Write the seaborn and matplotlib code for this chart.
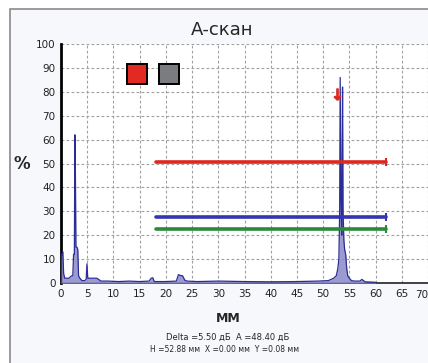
import numpy as np
import pandas as pd
import matplotlib
matplotlib.use("Agg")
import matplotlib.pyplot as plt
from matplotlib.patches import Rectangle
import seaborn as sns

# A-scan echo signal: depth (mm) vs amplitude (%)
depth = [0.0, 0.15, 0.35, 0.5, 0.7, 1.0, 1.5, 2.0, 2.25, 2.4, 2.55, 2.65, 2.75, 2.85,
         3.05, 3.2, 3.35, 3.6, 4.0, 4.5, 4.8, 4.95, 5.1, 5.4, 6.0, 6.8, 7.2, 7.6, 9.0,
         11.0, 13.0, 15.0, 16.8, 17.2, 17.5, 17.8, 20.0, 22.0, 22.4, 22.7, 23.2, 23.6,
         24.0, 26.0, 30.0, 35.0, 40.0, 45.0, 49.0, 51.0, 52.0, 52.5, 52.8, 53.0, 53.15,
         53.25, 53.4, 53.55, 53.7, 53.8, 53.95, 54.1, 54.3, 54.5, 54.7, 55.0, 55.4,
         56.0, 57.0, 57.4, 58.0, 60.0]
ampl = [10, 12, 13, 4, 2, 2, 2, 3, 3, 12, 12, 62, 45, 15,
        15, 14, 3, 2, 1, 1, 1.5, 8, 2, 2, 2, 2, 1.5, 0.8, 0.8,
        0.6, 0.8, 0.6, 0.8, 2, 2.2, 0.6, 0.6, 0.8, 3.5, 3.2, 3, 1.2,
        0.8, 0.6, 0.8, 0.6, 0.5, 0.6, 0.8, 1, 2, 3, 6, 10, 30,
        86, 35, 20, 82, 30, 18, 14, 12, 6, 3, 2, 1,
        0.8, 0.8, 1.5, 0.5, 0.3]

# gate lines: level (%), start and end (mm)
gate_names = ["A", "B", "C"]
gate_level = [50.5, 27.5, 22.4]
gate_start = [18.1, 18.1, 18.1]
gate_end = [62.0, 62.0, 62.0]
gate_color = ["#e0261f", "#3434b4", "#2a8a3a"]

x_ticks = list(range(0, 70, 5))
y_ticks = list(range(0, 110, 10))

scan = pd.DataFrame({"mm": depth, "pct": ampl})

sns.set_style("white")
plt.rcParams["font.family"] = ["DejaVu Sans"]

fig = plt.figure(figsize=(4.28, 3.63), dpi=100)
fig.patch.set_facecolor("white")
# outer panel frame
fig.patches.append(Rectangle((10 / 428, -0.1), 1.1, 1 - 9 / 363 + 0.1,
                             transform=fig.transFigure, facecolor="#f6f8fb",
                             edgecolor="#8a8a8a", lw=1.2, zorder=-5))

ax = fig.add_axes([61 / 428, 80 / 363, 367 / 428, 239 / 363])
ax.set_facecolor("white")

ax.fill_between(scan["mm"], scan["pct"], color="#9090cc", alpha=0.9, lw=0, zorder=3)
sns.lineplot(data=scan, x="mm", y="pct", ax=ax, color="#2c2c96", lw=0.9,
             estimator=None, sort=False, zorder=4)

for lvl, x0, x1, c in zip(gate_level, gate_start, gate_end, gate_color):
    ax.plot([x0, x1], [lvl, lvl], color=c, lw=2.6, solid_capstyle="round", zorder=5)
    ax.plot([x1], [lvl], marker="|", ms=6, mew=1.5, color=c, zorder=5)

# cursor mark at the peak
ax.plot([52.6], [79], marker=r"$\downarrow$", ms=8, color="#e0261f", zorder=6)

# colour swatches
ax.plot([14.5], [87.5], marker="s", ms=15, mfc="#e22a22", mec="black", mew=1.4,
        clip_on=False, zorder=6)
ax.plot([20.6], [87.5], marker="s", ms=15, mfc="#7a7c80", mec="black", mew=1.4,
        clip_on=False, zorder=6)

ax.set_xlim(0, 70)
ax.set_ylim(0, 100)
ax.set_xticks(x_ticks + [70])
ax.set_yticks(y_ticks)
ax.tick_params(axis="both", labelsize=7.5, length=0, pad=4, colors="#222222")
ax.set_xticklabels([str(t) for t in x_ticks] + [""])
ax.grid(True, color="#a0a0a0", ls=(0, (2.5, 2)), lw=0.8)
for side in ["top", "right"]:
    ax.spines[side].set_visible(False)
ax.spines["left"].set_color("black")
ax.spines["left"].set_linewidth(2.0)
ax.spines["bottom"].set_color("#222222")
ax.spines["bottom"].set_linewidth(1.2)
ax.set_xlabel("")
ax.set_ylabel("")
# last tick label sits on the figure edge in the original; keep it inside
ax.text(1.0, -0.028, "70", transform=ax.transAxes, ha="right", va="top",
        fontsize=7.5, color="#222222")

fig.text(222 / 428, 1 - 30 / 363, "А-скан", ha="center", va="center", fontsize=13)
fig.text(22 / 428, 1 - 164 / 363, "%", ha="center", va="center", fontsize=12,
         fontweight="bold")
fig.text(228 / 428, 1 - 318 / 363, "ММ", ha="center", va="center", fontsize=9,
         fontweight="bold")
fig.text(228 / 428, 1 - 337 / 363, "Delta =5.50 дБ  A =48.40 дБ", ha="center",
         va="center", fontsize=6)
fig.text(225 / 428, 1 - 350 / 363, "H =52.88 мм  X =0.00 мм  Y =0.08 мм",
         ha="center", va="center", fontsize=5.5)

fig.savefig("out.png", dpi=100)
